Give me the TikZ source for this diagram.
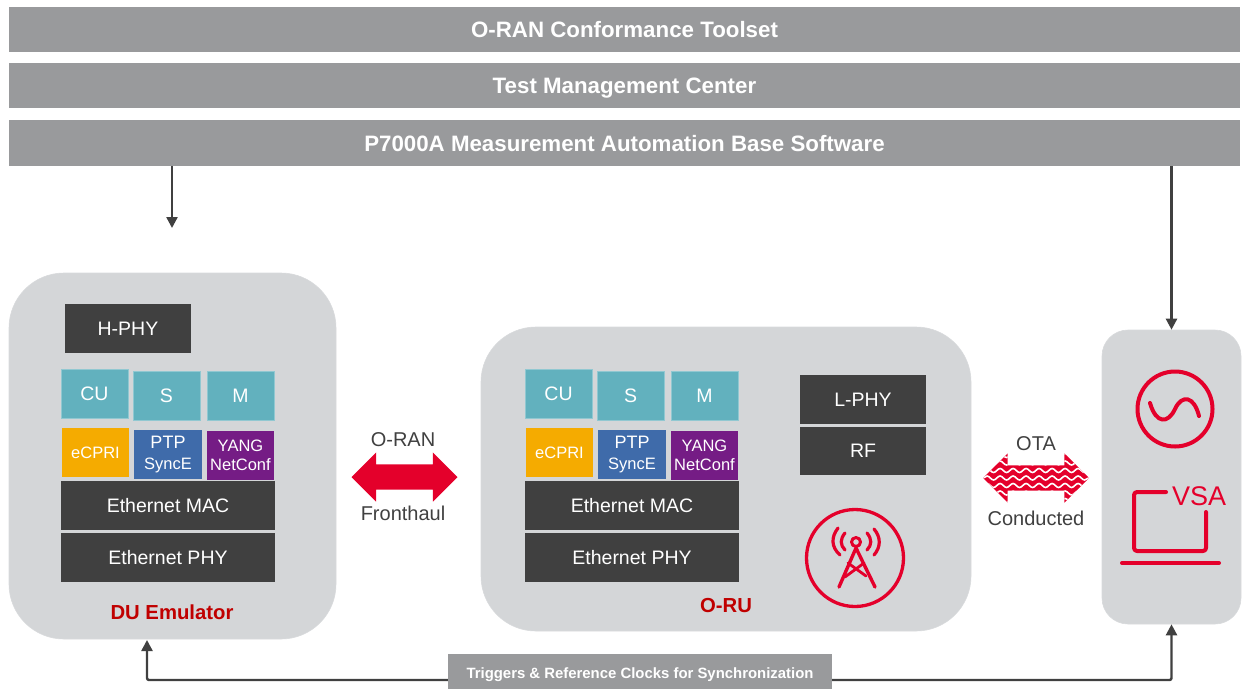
\documentclass[tikz,border=0pt]{standalone}
\usepackage{fontspec}
\setmainfont{Liberation Sans}
\usetikzlibrary{positioning,arrows.meta,shapes.arrows,decorations.pathmorphing}
\definecolor{bargray}{HTML}{999A9C}
\definecolor{panelgray}{HTML}{D4D6D8}
\definecolor{chipdark}{HTML}{404040}
\definecolor{chipteal}{HTML}{62B1BE}
\definecolor{chiporange}{HTML}{F5AB00}
\definecolor{chipblue}{HTML}{3F6BAA}
\definecolor{chippurple}{HTML}{751C85}
\definecolor{iconred}{HTML}{E4002B}
\definecolor{labelred}{HTML}{C00000}
\newcommand{\fs}[1]{\fontsize{#1}{#1}\selectfont}
\tikzset{
	topbar/.style={fill=bargray,text=white,inner sep=0pt,minimum width=1231pt,text height=16pt,text depth=0pt,font=\fs{22.3}\bfseries},
	panel/.style={fill=panelgray,draw=panelgray!90!white,line width=.6pt,inner sep=0pt},
	chip/.style={text=white,inner sep=0pt,align=center,minimum width=67pt,minimum height=49pt,font=\fs{19.5}},
	teal/.style={chip,fill=chipteal,draw=chipteal!70!white,line width=.5pt},
	small/.style={chip,font=\fs{16.5}},
	dark/.style={chip,fill=chipdark},
	caption/.style={inner sep=0pt,text=chipdark,font=\fs{20}},
	title/.style={inner sep=0pt,text=labelred,font=\fs{20.3}\bfseries},
	flow/.style={draw=chipdark,line width=2.4pt,-{Triangle[length=11pt,width=11pt]}},
	icon/.style={draw=iconred,line width=4pt,line cap=round,line join=round},
	fat/.style={double arrow,inner sep=0pt,text height=25pt,text depth=0pt,text width=0pt,double arrow head extend=12pt,minimum height=106pt}
}
\begin{document}
\begin{tikzpicture}[x=1pt,y=-1pt]
	\useasboundingbox (0,0) rectangle (1244,689);
	\node[topbar,minimum height=45pt] (suiteBar) at (624.5,29.5) {O-RAN Conformance Toolset};
	\node[topbar,minimum height=45pt] (centerBar) at (624.5,85.5) {Test Management Center};
	\node[topbar,minimum height=46pt] (baseBar) at (624.5,143) {P7000A Measurement Automation Base Software};

	\node[panel,minimum width=327pt,minimum height=366pt,rounded corners=55pt] (duBox) at (172.5,456) {};
	\node[panel,minimum width=490pt,minimum height=304pt,rounded corners=55pt] (ruBox) at (726,479) {};
	\node[panel,minimum width=139pt,minimum height=294pt,rounded corners=26pt] (vsaBox) at (1171.5,477) {};

	\node[dark,minimum width=126pt] (duHphy) at (128,328.5) {H-PHY};
	% the same stack in both boxes
	\foreach \dx/\pre in {0/du,464/ru}{
		\begin{scope}[xshift=\dx pt]
			\node[teal] (\pre Cu) at (94.5,393.5) {CU};
			\node[teal] (\pre S) at (166.5,395.5) {S};
			\node[teal] (\pre M) at (240.5,395.5) {M};
			\node[small,fill=chiporange] (\pre Ecpri) at (95.5,452.5) {eCPRI};
			\node[small,fill=chipblue,minimum width=68pt] (\pre Ptp) at (168,454.5) {{\fs{18}PTP}\\[4pt]SyncE};
			\node[small,fill=chippurple] (\pre Yang) at (240.5,455.5) {YANG\\[3pt]NetConf};
			\node[dark,minimum width=214pt] (\pre Mac) at (168,505.5) {Ethernet MAC};
			\node[dark,minimum width=214pt] (\pre Phy) at (168,557.5) {Ethernet PHY};
		\end{scope}
	}
	\node[dark,minimum width=126pt] (ruLphy) at (863,399.5) {L-PHY};
	\node[dark,minimum width=126pt,minimum height=48pt] (ruRf) at (863,451) {RF};
	\node[title] (duTitle) at (172,612) {DU Emulator};
	\node[title] (ruTitle) at (726,605) {O-RU};

	\node[fat,fill=iconred] (fhArrow) at (404.5,477) {};
	\node[caption] (fhTop) at ([xshift=-1.5pt,yshift=37pt]fhArrow.center) {O-RAN};
	\node[caption] (fhBottom) at ([xshift=-1.5pt,yshift=-36pt]fhArrow.center) {Fronthaul};
	\node[fat,fill=iconred,path picture={
		\foreach \k in {-3,...,3}
			\draw[white,line width=1.6pt,decorate,decoration={snake,segment length=13pt,amplitude=2pt}]
				([yshift=\k*7.5pt]path picture bounding box.west) -- ([yshift=\k*7.5pt]path picture bounding box.east);
	}] (otaArrow) at (1036,478) {};
	\node[caption] (otaTop) at ([yshift=34pt]otaArrow.center) {OTA};
	\node[caption] (otaBottom) at ([yshift=-40pt]otaArrow.center) {Conducted};

	% icons
	\node[icon,line width=3.3pt,circle,inner sep=0pt,minimum size=97pt] (towerRing) at (855,558) {};
	\node[icon,line width=3pt,circle,inner sep=0pt,minimum size=9pt] (towerTop) at (856,542) {};
	\draw[icon,line width=3.4pt] (839,587) -- (towerTop.south) -- (875,587);
	\draw[icon,line width=2.8pt] (848,563) -- (866,576) (864,563) -- (845,577);
	\draw[icon,line width=3.2pt] (838,528) .. controls (831,537) and (831,547) .. (840,555);
	\draw[icon,line width=3.2pt] (845,533) .. controls (840,539) and (840,545) .. (845,550);
	\draw[icon,line width=3.2pt] (874,529) .. controls (881,537) and (881,547) .. (874,555);
	\draw[icon,line width=3.2pt] (867,533) .. controls (872,539) and (872,545) .. (867,550);
	\node[icon,circle,inner sep=0pt,minimum size=75pt] (sineRing) at (1175,409) {};
	\draw[icon] (1150,403) .. controls (1156,424) and (1168,424) .. (1175,409) .. controls (1182,394) and (1194,396) .. (1199,416);
	\draw[icon,rounded corners=3pt] (1166,492) -- (1134,492) -- (1134,551) -- (1206,551) -- (1206,512);
	\draw[icon] (1122,563) -- (1219,563);
	\node[inner sep=0pt,text=iconred,font=\fs{27}] (vsaLabel) at (1199,496) {VSA};

	% connectors
	\coordinate (duIn) at (172,228);
	\draw[flow] (baseBar.south -| duIn) -- (duIn);
	\draw[flow] (baseBar.south -| vsaBox.north) -- (vsaBox.north);
	\node[fill=bargray,text=white,inner sep=0pt,minimum width=384pt,minimum height=35pt,text height=14.5pt,text depth=0pt,font=\fs{14.9}\bfseries] (syncBox) at (640,671.5) {Triggers \& Reference Clocks for Synchronization};
	\coordinate (duFoot) at (147,640);
	\draw[flow,rounded corners=2pt] (syncBox.west |- 0,680) -| (duFoot);
	\draw[flow,rounded corners=2pt] (syncBox.east |- 0,680) -| (vsaBox.south);
\end{tikzpicture}
\end{document}
